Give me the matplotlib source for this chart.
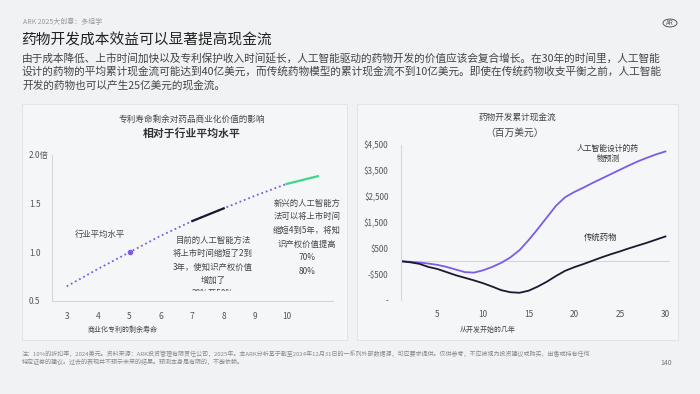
import numpy as np
import matplotlib
matplotlib.use("Agg")
import matplotlib.pyplot as plt
from matplotlib.patches import Rectangle, Circle

plt.rcParams['font.family'] = ['Noto Sans CJK SC', 'DejaVu Sans']

# left chart: relative commercial value vs remaining patent life
patent_years = [3, 4, 5, 6, 7, 8, 9, 10, 11]
rel_value = [0.65, 0.83, 1.0, 1.17, 1.32, 1.45, 1.58, 1.70, 1.78]

# right chart: cumulative cash flow (USD millions)
years = list(range(1, 31))
ai_cash = [0, -20, -50, -90, -140, -220, -320, -420, -440, -350,
           -220, -60, 150, 430, 820, 1250, 1700, 2150, 2480, 2680,
           2850, 3030, 3200, 3370, 3540, 3710, 3870, 4010, 4140, 4250]
trad_cash = [0, -40, -100, -220, -300, -420, -540, -640, -740, -850,
             -980, -1120, -1200, -1220, -1140, -980, -790, -570, -370, -230,
             -110, 20, 150, 270, 380, 500, 610, 720, 840, 960]

left_yticks = [0.5, 1.0, 1.5, 2.0]
left_ylabels = ["0.5", "1.0", "1.5", "2.0倍"]
right_yticks = [4500, 3500, 2500, 1500, 500, -500, -1500]
right_ylabels = ["$4,500", "$3,500", "$2,500", "$1,500", "$500", "-$500", "-"]

BG = "#f1f2f4"
PURPLE = "#7b5ce6"
DARK = "#1b1830"
GREEN = "#3dd68c"
GRID = "#d4d6da"
TXT = "#555555"

W, H = 700, 394
fig = plt.figure(figsize=(7, 3.94), dpi=100, facecolor=BG)


def fx(px):
    return px / W


def fy(py):
    return 1 - py / H


# panel boxes
for x0, x1 in [(22, 347), (357, 678)]:
    fig.patches.append(Rectangle((fx(x0), fy(340)), fx(x1 - x0), (340 - 104) / H,
                                 transform=fig.transFigure, facecolor="#f5f6f8",
                                 edgecolor="#e2e4e8", lw=0.8, zorder=-1))

# header
fig.text(fx(23), fy(22), "ARK 2025大创意：多组学", fontsize=5, color="#9a9a9a", va="center")
fig.text(fx(21), fy(40), "药物开发成本效益可以显著提高现金流", fontsize=10.6, color="#222222", va="center")
body = ["由于成本降低、上市时间加快以及专利保护收入时间延长，人工智能驱动的药物开发的价值应该会复合增长。在30年的时间里，人工智能",
        "设计的药物的平均累计现金流可能达到40亿美元，而传统药物模型的累计现金流不到10亿美元。即使在传统药物收支平衡之前，人工智能",
        "开发的药物也可以产生25亿美元的现金流。"]
for i, line in enumerate(body):
    fig.text(fx(22), fy(58 + i * 13.6), line, fontsize=7.7, color="#444444", va="center")

# logo
fig.patches.append(Circle((fx(670), fy(23)), 7 / W, transform=fig.transFigure,
                          fill=False, edgecolor="#555555", lw=0.7))
fig.text(fx(670), fy(23), "AR", fontsize=4.5, color="#555555", ha="center", va="center")

# ---- left chart ----
ax1 = fig.add_axes([fx(51.7), fy(301), fx(333 - 51.7), (301 - 154.7) / H])
ax1.set_facecolor("none")
ax1.plot(patent_years[:-1], rel_value[:-1], ls=(0, (1, 1.6)), color=PURPLE, lw=1.3)
ax1.plot(patent_years[4:6], rel_value[4:6], color=DARK, lw=1.6)
ax1.plot(patent_years[7:9], rel_value[7:9], color=GREEN, lw=1.6)
ax1.plot(patent_years[2], rel_value[2], "o", color=PURPLE, ms=3)
ax1.set_xlim(2.52, 11.48)
ax1.set_ylim(0.5, 2.0)
ax1.set_xticks(patent_years[:-1])
ax1.set_yticks(left_yticks)
ax1.set_yticklabels(left_ylabels)
for lab in ax1.get_yticklabels():
    lab.set_horizontalalignment("left")
ax1.tick_params(axis="y", length=0, pad=16.5, labelsize=6, labelcolor=TXT)
ax1.tick_params(axis="x", length=0, pad=8, labelsize=6, labelcolor=TXT)
for s in ["top", "right"]:
    ax1.spines[s].set_visible(False)
for s in ["left", "bottom"]:
    ax1.spines[s].set_color(GRID)
    ax1.spines[s].set_linewidth(0.8)

ax1.text(4.06, 1.186, "行业平均水平", fontsize=6, color="#444444", ha="center", va="center")
ax1.text(7.66, 1.17, "目前的人工智能方法\n将上市时间缩短了2到\n3年，使知识产权价值\n增加了",
         fontsize=6, color="#444444", ha="center", va="top", linespacing=1.62)
t = ax1.text(7.66, 0.582, "20%至50%", fontsize=6, color="#444444", ha="center", va="center",
             clip_on=True)
t.set_clip_path(Rectangle((5, 0.60), 5, 1.4, transform=ax1.transData))
ax1.text(10.65, 1.55, "新兴的人工智能方\n法可以将上市时间\n缩短4到5年，将知\n识产权价值提高\n70%\n80%",
         fontsize=6, color="#444444", ha="center", va="top", linespacing=1.66)

fig.text(fx(192), fy(119), "专利寿命剩余对药品商业化价值的影响", fontsize=6.2, color="#444444", ha="center", va="center")
fig.text(fx(192), fy(134), "相对于行业平均水平", fontsize=7.8, color="#333333", ha="center", va="center", fontweight="bold")
fig.text(fx(123), fy(330), "商业化专利的剩余寿命", fontsize=5, color="#444444", ha="center", va="center")

# ---- right chart ----
ax2 = fig.add_axes([fx(401), fy(300), fx(670 - 401), (300 - 145) / H])
ax2.set_facecolor("none")
ax2.axhline(0, color=GRID, lw=0.8)
ax2.plot(years, ai_cash, color=PURPLE, lw=1.3)
ax2.plot(years, trad_cash, color=DARK, lw=1.3)
ax2.set_xlim(1, 30.5)
ax2.set_ylim(-1500, 4500)
ax2.set_xticks([5, 10, 15, 20, 25, 30])
ax2.set_yticks(right_yticks)
ax2.set_yticklabels(right_ylabels)
ax2.tick_params(axis="y", length=0, pad=9, labelsize=5.8, labelcolor=TXT)
ax2.tick_params(axis="x", length=0, pad=7, labelsize=6, labelcolor=TXT)
for s in ["top", "right", "bottom"]:
    ax2.spines[s].set_visible(False)
ax2.spines["left"].set_color(GRID)
ax2.spines["left"].set_linewidth(0.8)

ax2.text(23.7, 4150, "人工智能设计的药\n物预测", fontsize=5.6, color="#333333", ha="center", va="center", linespacing=1.35)
ax2.text(22.9, 930, "传统药物", fontsize=6, color="#333333", ha="center", va="center")

fig.text(fx(517), fy(117), "药物开发累计现金流", fontsize=6.2, color="#444444", ha="center", va="center")
fig.text(fx(515), fy(133), "（百万美元）", fontsize=7, color="#444444", ha="center", va="center")
fig.text(fx(488), fy(330), "从开发开始的几年", fontsize=5, color="#444444", ha="center", va="center")

# footnote
foot = ["注：10%的折扣率，2024美元。资料来源：ARK投资管理有限责任公司，2025年。本ARK分析基于截至2024年12月31日的一系列外部数据源，可应要求提供。仅供参考，不应被视为投资建议或购买、出售或持有任何",
        "特定证券的建议。过去的表现并不预示未来的结果。预测本身是有限的，不能依赖。"]
for i, line in enumerate(foot):
    fig.text(fx(22), fy(354 + i * 8), line, fontsize=4.35, color="#8a8a8a", va="center")
fig.text(fx(672), fy(363), "140", fontsize=5, color="#777777", ha="right", va="center")

fig.savefig("out.png", dpi=100, facecolor=BG)
